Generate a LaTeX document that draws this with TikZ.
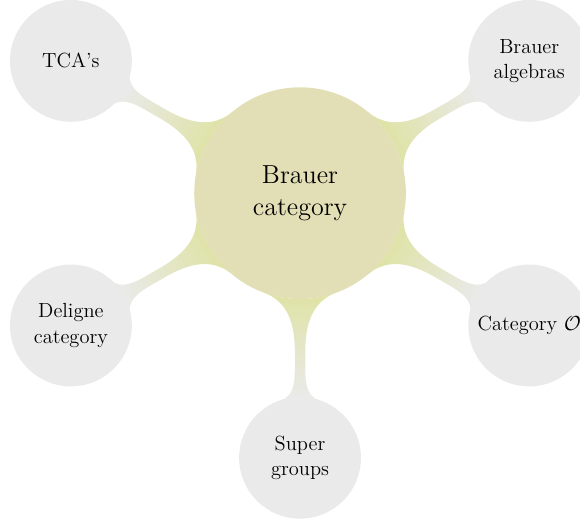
\documentclass[tikz,border=0pt]{standalone}
\usetikzlibrary{mindmap,shadings}
\definecolor{rootc}{RGB}{226,222,181}
\definecolor{barc}{RGB}{223,227,168}
\definecolor{leafc}{RGB}{234,234,234}
\tikzset{
  rootconcept/.style={concept, fill=rootc, draw=none, inner sep=0pt, text width=3cm, minimum size=4cm, font=\fontsize{14}{17}\selectfont},
  leafconcept/.style={concept, inner sep=0pt, text width=2.05cm, minimum size=2.26cm, font=\fontsize{11}{13.6}\selectfont},
  leafchild/.style={concept color=leafc}
}
\begin{document}
\begin{tikzpicture}[mindmap, concept color=barc, text=black]
\useasboundingbox (-5.67,-6.18) rectangle (5.29,3.65);
\node[rootconcept] (root) at (0,0) {Brauer category}
  child[grow=150, leafchild] {node[leafconcept] (tca) {TCA's}}
  child[grow=30, leafchild] {node[leafconcept] (ba) {Brauer algebras}}
  child[grow=-30, leafchild] {node[leafconcept] (co) {Category $\mathcal{O}$}}
  child[grow=-90, leafchild] {node[leafconcept] (sg) {Super groups}}
  child[grow=210, leafchild] {node[leafconcept] (dc) {Deligne category}};
\end{tikzpicture}
\end{document}
